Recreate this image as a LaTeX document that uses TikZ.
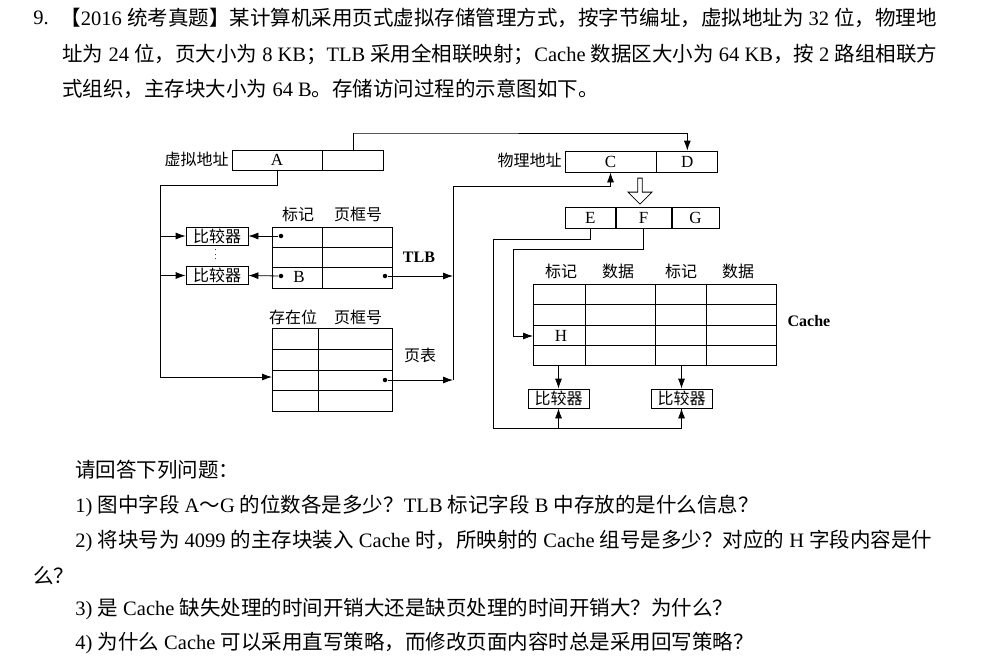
\documentclass[tikz,border=0pt]{standalone}
\usepackage{fontspec}
\setmainfont{Liberation Serif}
\newfontfamily\cjk{Noto Sans CJK SC}
\newfontfamily\latinf{Liberation Serif}
\usetikzlibrary{arrows.meta,shapes.arrows}
\XeTeXinterchartokenstate=1
\newXeTeXintercharclass\cjkcls
\count255="4E00 \loop \XeTeXcharclass\count255=\cjkcls \advance\count255 1 \ifnum\count255<"A000 \repeat
\count255="3000 \loop \XeTeXcharclass\count255=\cjkcls \advance\count255 1 \ifnum\count255<"3040 \repeat
\count255="FF00 \loop \XeTeXcharclass\count255=\cjkcls \advance\count255 1 \ifnum\count255<"FFF0 \repeat
\XeTeXinterchartoks 0 \cjkcls = {\cjk}
\XeTeXinterchartoks 4095 \cjkcls = {\cjk}
\XeTeXinterchartoks \cjkcls 0 = {\latinf}
\XeTeXinterchartoks \cjkcls 4095 = {\latinf}
\begin{document}
\begin{tikzpicture}[x=1pt,y=-1pt,line width=0.8pt,
  box/.style={draw,inner sep=0pt},
  lbl/.style={font=\fontsize{16}{18}\selectfont,inner sep=0pt},
  let/.style={font=\fontsize{17}{18}\selectfont,inner sep=0pt},
  txt/.style={font=\fontsize{20.5}{22}\selectfont,anchor=west,inner sep=0pt},
  jtxt/.style={txt,text width=905pt,align=justify},
  arr/.style={-{Latex[length=10pt,width=7pt]}},
  dot/.style={circle,fill,inner sep=0pt,minimum size=4.5pt}]
\useasboundingbox (0,0) rectangle (1003,665);
% text
\node[txt] (t0) at (33,18) {9.};
\node[jtxt] (t1) at (60,18) {\parfillskip=0pt 【2016 统考真题】某计算机采用页式虚拟存储管理方式，按字节编址，虚拟地址为 32 位，物理地};
\node[jtxt] (t2) at (62,54) {\parfillskip=0pt 址为 24 位，页大小为 8 KB；TLB 采用全相联映射；Cache 数据区大小为 64 KB，按 2 路组相联方};
\node[txt] (t3) at (62,89) {式组织，主存块大小为 64 B。存储访问过程的示意图如下。};
\node[txt] (q0) at (75,470) {请回答下列问题：};
\node[txt] (q1) at (75,506) {1) 图中字段 A～G 的位数各是多少？TLB 标记字段 B 中存放的是什么信息？};
\node[txt,text width=892pt,align=justify] (q2) at (75,541) {\parfillskip=0pt 2) 将块号为 4099 的主存块装入 Cache 时，所映射的 Cache 组号是多少？对应的 H 字段内容是什};
\node[txt] (q2b) at (33,576) {么？};
\node[txt] (q3) at (75,609) {3) 是 Cache 缺失处理的时间开销大还是缺页处理的时间开销大？为什么？};
\node[txt] (q4) at (75,643) {4) 为什么 Cache 可以采用直写策略，而修改页面内容时总是采用回写策略？};
% virtual address
\node[box,let,minimum width=90pt,minimum height=20pt] (A) at (277,160) {A};
\node[box,minimum width=61pt,minimum height=20pt,anchor=west] (Aoff) at (A.east) {};
\node[lbl,anchor=east] (va) at (229,159) {虚拟地址};
% physical address
\node[box,let,minimum width=91pt,minimum height=21pt] (C) at (610.5,161.5) {C};
\node[box,let,minimum width=61pt,minimum height=21pt,anchor=west] (D) at (C.east) {D};
\node[lbl,anchor=east] (pa) at (562,160) {物理地址};
\draw[arr] (Aoff.north) |- (353,133) -| (D.north);
% comparators left
\node[box,lbl,draw,minimum width=62pt,minimum height=18pt] (cmp1) at (217,236) {比较器};
\node[box,lbl,draw,minimum width=62pt,minimum height=18pt] (cmp2) at (217,275.5) {比较器};
\node[lbl,font=\bfseries] (vd) at (216,255) {\rotatebox{90}{$\cdots$}};
% TLB
\node[box,minimum width=120pt,minimum height=61pt,anchor=north west] (tlb) at (272,227) {};
\draw (322,227) -- (322,288) (272,247.3) -- (392,247.3) (272,267.6) -- (392,267.6);
\node[lbl] (h1) at (298,214) {标记};
\node[lbl] (h2) at (358,214) {页框号};
\node[dot] (d1) at (281,236) {};
\node[dot] (d2) at (281,276) {};
\node[let] (B) at (299,277) {B};
\node[dot] (d3) at (385,276) {};
\node[lbl,font=\bfseries\fontsize{16}{18}\selectfont] (tlbl) at (419,257) {TLB};
% page table
\node[box,minimum width=120pt,minimum height=83pt,anchor=north west] (pt) at (272,328) {};
\draw (318,328) -- (318,411) (272,349) -- (392,349) (272,370) -- (392,370) (272,390) -- (392,390);
\node[lbl] (h3) at (293,317) {存在位};
\node[lbl] (h4) at (358,317) {页框号};
\node[lbl] (ptl) at (420,355) {页表};
\node[dot] (d4) at (385,380) {};
% connections left
\coordinate (bl) at (160,185);
\draw[arr] (A.south) |- (bl) |- (pt.west |- 0,377);
\draw[arr] (160,236) -- (cmp1.west);
\draw[arr] (160,275.5) -- (cmp2.west);
\draw[arr] (d1) -- (cmp1.east);
\draw[arr] (d2) -- (cmp2.east);
\coordinate (vr) at (453,186);
\draw[arr] (d3) -- (453,276);
\draw[arr] (d4) -- (453,380);
\draw[arr] (453,380) -- (vr) -| (C.south);
% hollow arrow
\node[draw,single arrow,shape border rotate=270,minimum height=26pt,minimum width=24pt,single arrow head extend=6pt,inner sep=1pt,line width=0.8pt] (ha) at (640,190) {};
% EFG
\node[box,let,minimum width=50pt,minimum height=21pt,anchor=north west] (E) at (565,207) {E};
\node[box,let,minimum width=55pt,minimum height=21pt,anchor=west] (F) at (E.east) {F};
\node[box,let,minimum width=47pt,minimum height=21pt,anchor=west] (G) at (F.east) {G};
% cache
\node[box,minimum width=243pt,minimum height=81pt,anchor=north west] (cache) at (533,284) {};
\draw (585,284) -- (585,365) (655,284) -- (655,365) (706,284) -- (706,365)
  (533,304) -- (776,304) (533,325) -- (776,325) (533,345) -- (776,345);
\node[lbl] (c1) at (561,271) {标记};
\node[lbl] (c2) at (618,271) {数据};
\node[lbl] (c3) at (681,271) {标记};
\node[lbl] (c4) at (738,271) {数据};
\node[lbl,font=\bfseries\fontsize{16}{18}\selectfont] (cl) at (809,321) {Cache};
\node[let] (H) at (561,336) {H};
% cache comparators
\node[box,lbl,draw,minimum width=61pt,minimum height=19pt] (cmp3) at (558.5,398.5) {比较器};
\node[box,lbl,draw,minimum width=61pt,minimum height=19pt] (cmp4) at (681.5,398.5) {比较器};
\draw[arr] (558.5,365) -- (cmp3.north);
\draw[arr] (681.5,365) -- (cmp4.north);
\coordinate (eb) at (493,428);
\draw (E.south) |- (493,239) -- (eb) -| (cmp4.south);
\draw[arr] (558.5,428) -- (cmp3.south);
\draw[arr] (681.5,428) -- (cmp4.south);
\draw[arr] (F.south) |- (513,249) |- (cache.west |- 0,336);
\end{tikzpicture}
\end{document}
